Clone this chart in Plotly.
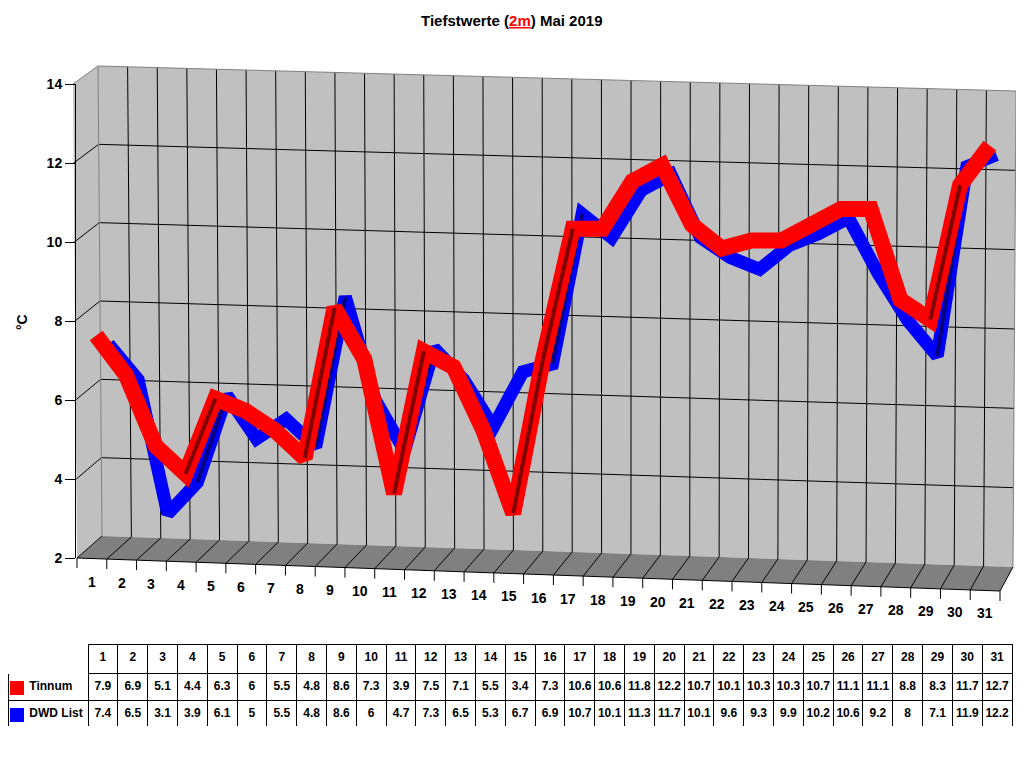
import plotly.graph_objects as go

# ---------------- data ----------------
days = list(range(1, 32))
tinnum = [7.9, 6.9, 5.1, 4.4, 6.3, 6, 5.5, 4.8, 8.6, 7.3, 3.9, 7.5, 7.1, 5.5, 3.4, 7.3,
          10.6, 10.6, 11.8, 12.2, 10.7, 10.1, 10.3, 10.3, 10.7, 11.1, 11.1, 8.8, 8.3, 11.7, 12.7]
dwd = [7.4, 6.5, 3.1, 3.9, 6.1, 5, 5.5, 4.8, 8.6, 6, 4.7, 7.3, 6.5, 5.3, 6.7, 6.9,
       10.7, 10.1, 11.3, 11.7, 10.1, 9.6, 9.3, 9.9, 10.2, 10.6, 9.2, 8, 7.1, 11.9, 12.2]
y_ticks = [2, 4, 6, 8, 10, 12, 14]
series_names = ["Tinnum", "DWD List"]
series_colors = ["#ff0000", "#0000ff"]
series_dark = ["#800000", "#000080"]
y_title = "°C"
title_text = "<b>Tiefstwerte (<span style='color:#ff0000'><u>2m</u></span>) Mai 2019</b>"

# ---------------- pseudo-3D frame geometry (page pixels) ----------------
OFF = 8                     # default page body margin
W, H = 1024 - OFF, 768 - OFF
N = len(days)
YMIN, YMAX = 2, 14
FRONT = {"bl": (77, 558), "tl": (73, 84), "br": (1000, 591), "tr": (1003, 115)}
BACK = {"bl": (102, 536), "tl": (98, 66), "br": (1013, 567), "tr": (1016, 91)}


def _plane(pl, u, t):
    x = ((1 - u) * (1 - t) * pl["bl"][0] + u * (1 - t) * pl["br"][0]
         + (1 - u) * t * pl["tl"][0] + u * t * pl["tr"][0])
    y = ((1 - u) * (1 - t) * pl["bl"][1] + u * (1 - t) * pl["br"][1]
         + (1 - u) * t * pl["tl"][1] + u * t * pl["tr"][1])
    return x, y


def proj(i, v, d):
    u = i / N
    t = (v - YMIN) / (YMAX - YMIN)
    fx, fy = _plane(FRONT, u, t)
    bx, by = _plane(BACK, u, t)
    return fx + d * (bx - fx), fy + d * (by - fy)


def px(x):
    return min(1.0, max(0.0, (x - OFF) / W))


def py(y):
    return min(1.0, max(0.0, 1 - (y - OFF) / H))


def poly(points, fill, layer="below"):
    path = "M " + " L ".join(f"{px(x):.5f},{py(y):.5f}" for x, y in points) + " Z"
    return dict(type="path", path=path, xref="paper", yref="paper",
                fillcolor=fill, layer=layer, line=dict(width=0))


def seg(a, b, color="black", width=1):
    return dict(type="line", xref="paper", yref="paper",
                x0=px(a[0]), y0=py(a[1]), x1=px(b[0]), y1=py(b[1]),
                line=dict(color=color, width=width), layer="below")


shapes = []
# walls and floor
shapes.append(poly([proj(0, YMIN, 1), proj(N, YMIN, 1), proj(N, YMAX, 1), proj(0, YMAX, 1)], "#c0c0c0"))
shapes.append(poly([proj(0, YMIN, 0), proj(0, YMIN, 1), proj(0, YMAX, 1), proj(0, YMAX, 0)], "#c0c0c0"))
shapes.append(poly([proj(0, YMIN, 0), proj(N, YMIN, 0), proj(N, YMIN, 1), proj(0, YMIN, 1)], "#808080"))
# horizontal grid lines
for v in y_ticks[1:-1]:
    shapes.append(seg(proj(0, v, 1), proj(N, v, 1)))
    shapes.append(seg(proj(0, v, 0), proj(0, v, 1)))
# vertical grid lines and floor lines
for i in range(1, N):
    shapes.append(seg(proj(i, YMIN, 1), proj(i, YMAX, 1)))
    shapes.append(seg(proj(i, YMIN, 0), proj(i, YMIN, 1)))
# edges
shapes.append(seg(proj(0, YMAX, 1), proj(N, YMAX, 1), "#808080"))
shapes.append(seg(proj(N, YMIN, 1), proj(N, YMAX, 1), "#808080"))
shapes.append(seg(proj(0, YMIN, 1), proj(0, YMAX, 1), "#808080"))
shapes.append(seg(proj(0, YMAX, 0), proj(0, YMAX, 1), "#808080"))
shapes.append(seg(proj(0, YMIN, 0), proj(0, YMIN, 1)))
shapes.append(seg(proj(0, YMIN, 0), proj(N, YMIN, 0)))
shapes.append(seg(proj(N, YMIN, 0), proj(N, YMIN, 1)))
# x tick marks on the front floor edge
for i in range(0, N + 1):
    a = proj(i, YMIN, 0)
    shapes.append(seg(a, (a[0], a[1] + 10)))

# legend squares inside the table's label column
for r, col in enumerate(series_colors):
    y0 = 681 + r * 27
    shapes.append(poly([(10, y0), (24, y0), (24, y0 + 14), (10, y0 + 14)], col, layer="above"))


def axis_box(d):
    """Linear (averaged) mapping of the data plane at depth d."""
    x0 = (proj(0, YMIN, d)[0] + proj(0, YMAX, d)[0]) / 2
    x1 = (proj(N, YMIN, d)[0] + proj(N, YMAX, d)[0]) / 2
    yb = (proj(0, YMIN, d)[1] + proj(N, YMIN, d)[1]) / 2
    yt = (proj(0, YMAX, d)[1] + proj(N, YMAX, d)[1]) / 2
    return [px(x0), px(x1)], [py(yb), py(yt)]


def rising(vals, thr=1.5):
    """Only the steeply rising segments (their shaded side face is visible)."""
    xs, ys = [], []
    for k in range(len(vals) - 1):
        if vals[k + 1] - vals[k] >= thr:
            xs += [days[k], days[k + 1], None]
            ys += [vals[k], vals[k + 1], None]
    return xs, ys


xd_red, yd_red = axis_box(0.25)
xd_blue, yd_blue = axis_box(0.75)

fig = go.Figure()
# back series (blue) on the first subplot, front series (red) on the second -> drawn on top
fig.add_trace(go.Scatter(x=days, y=dwd, mode="lines", name=series_names[1],
                         line=dict(color=series_colors[1], width=13),
                         xaxis="x", yaxis="y", showlegend=False))
rx, ry = rising(dwd)
fig.add_trace(go.Scatter(x=rx, y=ry, mode="lines", line=dict(color=series_dark[1], width=4),
                         xaxis="x", yaxis="y", showlegend=False, hoverinfo="skip"))
fig.add_trace(go.Scatter(x=days, y=tinnum, mode="lines", name=series_names[0],
                         line=dict(color=series_colors[0], width=16),
                         xaxis="x2", yaxis="y2", showlegend=False))
rx, ry = rising(tinnum)
fig.add_trace(go.Scatter(x=rx, y=ry, mode="lines", line=dict(color=series_dark[0], width=4),
                         xaxis="x2", yaxis="y2", showlegend=False, hoverinfo="skip"))
# front value axis (labels only)
fig.add_trace(go.Scatter(x=[None], y=[None], xaxis="x3", yaxis="y3",
                         showlegend=False, hoverinfo="skip"))

# table
fmt = lambda v: f"{v:g}"
pad = "\u00a0" * 4
label_col = [pad + s.replace(" ", "\u00a0") for s in series_names]
header_vals = [""] + [str(d) for d in days]
cell_vals = [label_col] + [[fmt(a), fmt(b)] for a, b in zip(tinnum, dwd)]
tfont = dict(family="Liberation Sans", size=12, color="black", weight="bold")
fig.add_trace(go.Table(
    domain=dict(x=[px(8), px(1012)], y=[py(727), py(644)]),
    columnwidth=[80] + [29.8] * N,
    header=dict(values=header_vals, height=29, fill_color="white",
                line=dict(color=["white"] + ["black"] * N, width=1),
                align="center", font=tfont),
    cells=dict(values=cell_vals, height=27, fill_color="white",
               line=dict(color="black", width=1),
               align=["left"] + ["center"] * N, font=tfont),
))

# x labels along the front floor edge
lab_font = dict(family="Liberation Sans", size=14, color="black")
annotations = []
for k in days:
    x, y = proj(k - 0.5, YMIN, 0)
    annotations.append(dict(x=px(x), y=py(y + 23), xref="paper", yref="paper",
                            xanchor="center", yanchor="middle",
                            text=f"<b>{k}</b>", showarrow=False, font=lab_font))
annotations.append(dict(x=px(22), y=py(322), xref="paper", yref="paper",
                        xanchor="center", yanchor="middle",
                        text=f"<b>{y_title}</b>", textangle=-90, showarrow=False,
                        font=lab_font))
annotations.append(dict(x=px(512), y=py(20), xref="paper", yref="paper",
                        xanchor="center", yanchor="middle",
                        text=title_text, showarrow=False,
                        font=dict(family="Liberation Sans", size=15, color="black")))

hidden = dict(visible=False, fixedrange=True, automargin=False)
fig.update_layout(
    width=W, height=H,
    margin=dict(l=0, r=0, t=0, b=0, pad=0, autoexpand=False),
    paper_bgcolor="white", plot_bgcolor="rgba(0,0,0,0)",
    xaxis=dict(domain=xd_blue, range=[0.5, N + 0.5], anchor="y", **hidden),
    yaxis=dict(domain=yd_blue, range=[YMIN, YMAX], anchor="x", **hidden),
    xaxis2=dict(domain=xd_red, range=[0.5, N + 0.5], anchor="y2", **hidden),
    yaxis2=dict(domain=yd_red, range=[YMIN, YMAX], anchor="x2", **hidden),
    xaxis3=dict(domain=[px(75), px(80)], range=[0, 1], anchor="y3", **hidden),
    yaxis3=dict(domain=[py(558), py(84)], range=[YMIN, YMAX], anchor="free",
                position=px(75), tickvals=y_ticks, ticks="outside", ticklen=10,
                tickcolor="black", showline=True, linecolor="black", showgrid=False,
                zeroline=False, fixedrange=True, automargin=False,
                tickfont=dict(family="Liberation Sans", size=14, color="black", weight="bold")),
    shapes=shapes,
    annotations=annotations,
)

fig.write_html("out.html")
